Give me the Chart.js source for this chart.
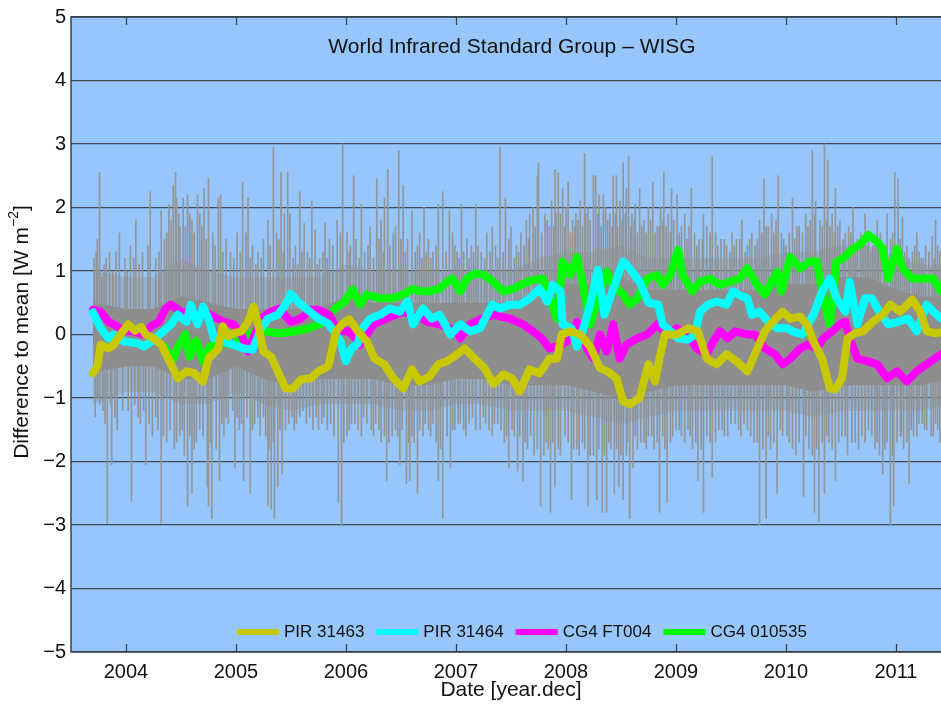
<!DOCTYPE html>
<html>
<head>
<meta charset="utf-8">
<title>World Infrared Standard Group - WISG</title>
<script src="https://cdn.jsdelivr.net/npm/chart.js@4.4.0/dist/chart.umd.min.js"></script>
<style>
  html, body { margin: 0; padding: 0; background: #fff; }
  #wrap { width: 941px; height: 704px; }
</style>
</head>
<body>
<div id="wrap"><canvas id="wisg" width="941" height="704"></canvas></div>
<script>
// ---- data ---------------------------------------------------------------
const seriesNames  = ['PIR 31463', 'PIR 31464', 'CG4 FT004', 'CG4 010535'];
const seriesColors = ['#c8c800', '#00ffff', '#ff00ff', '#00ff00'];
const yearTicks  = [2004, 2005, 2006, 2007, 2008, 2009, 2010, 2011];
const valueTicks = [-5, -4, -3, -2, -1, 0, 1, 2, 3, 4, 5];

// smoothed differences to the group mean, [year.dec, W m-2]
const pir31463 = [[2003.70,-0.61],[2003.74,-0.50],[2003.77,-0.16],[2003.84,-0.22],[2003.89,-0.16],[2003.95,0.00],[2004.02,0.16],[2004.08,0.06],[2004.14,0.12],[2004.18,0.00],[2004.25,-0.06],[2004.32,-0.16],[2004.41,-0.47],[2004.47,-0.69],[2004.55,-0.58],[2004.62,-0.61],[2004.70,-0.74],[2004.75,-0.38],[2004.84,-0.22],[2004.88,0.13],[2004.93,-0.03],[2004.98,0.02],[2005.05,0.05],[2005.11,0.20],[2005.16,0.44],[2005.20,0.16],[2005.25,-0.27],[2005.32,-0.35],[2005.38,-0.58],[2005.45,-0.85],[2005.52,-0.85],[2005.59,-0.71],[2005.68,-0.69],[2005.75,-0.58],[2005.84,-0.50],[2005.91,0.05],[2005.97,0.17],[2006.03,0.24],[2006.11,0.05],[2006.19,-0.11],[2006.26,-0.38],[2006.35,-0.47],[2006.43,-0.69],[2006.52,-0.85],[2006.60,-0.55],[2006.67,-0.74],[2006.76,-0.66],[2006.84,-0.47],[2006.92,-0.42],[2007.01,-0.31],[2007.08,-0.22],[2007.17,-0.38],[2007.26,-0.53],[2007.34,-0.78],[2007.43,-0.63],[2007.51,-0.69],[2007.58,-0.90],[2007.67,-0.55],[2007.76,-0.61],[2007.85,-0.38],[2007.92,-0.38],[2007.96,0.00],[2008.04,0.05],[2008.13,0.00],[2008.22,-0.19],[2008.31,-0.53],[2008.38,-0.58],[2008.46,-0.69],[2008.52,-1.05],[2008.58,-1.10],[2008.67,-1.00],[2008.75,-0.47],[2008.81,-0.74],[2008.85,-0.38],[2008.90,0.00],[2009.01,0.00],[2009.11,0.10],[2009.20,0.05],[2009.28,-0.38],[2009.37,-0.47],[2009.46,-0.31],[2009.55,-0.42],[2009.65,-0.58],[2009.74,-0.22],[2009.81,0.05],[2009.88,0.20],[2009.97,0.36],[2010.04,0.25],[2010.13,0.28],[2010.19,0.16],[2010.25,-0.11],[2010.33,-0.38],[2010.40,-0.85],[2010.45,-0.86],[2010.51,-0.69],[2010.56,-0.06],[2010.63,0.02],[2010.70,0.05],[2010.79,0.20],[2010.88,0.31],[2010.95,0.47],[2011.04,0.36],[2011.15,0.55],[2011.22,0.36],[2011.28,0.05],[2011.37,0.02],[2011.45,0.05]];

const pir31464 = [[2003.70,0.35],[2003.77,0.10],[2003.84,-0.06],[2003.89,0.00],[2003.98,-0.11],[2004.11,-0.14],[2004.16,-0.19],[2004.24,-0.10],[2004.34,0.05],[2004.41,0.16],[2004.47,0.31],[2004.55,0.20],[2004.59,0.47],[2004.65,0.16],[2004.70,0.44],[2004.75,0.25],[2004.80,-0.06],[2004.89,-0.11],[2004.98,-0.16],[2005.07,-0.22],[2005.15,-0.24],[2005.23,0.10],[2005.29,0.25],[2005.38,0.31],[2005.45,0.47],[2005.50,0.64],[2005.56,0.52],[2005.65,0.39],[2005.75,0.25],[2005.84,0.17],[2005.89,0.05],[2005.95,-0.11],[2006.00,-0.42],[2006.05,-0.22],[2006.11,-0.14],[2006.13,0.05],[2006.22,0.25],[2006.31,0.31],[2006.40,0.41],[2006.49,0.36],[2006.56,0.52],[2006.61,0.16],[2006.70,0.41],[2006.78,0.25],[2006.85,0.31],[2006.95,0.00],[2007.04,0.16],[2007.13,0.05],[2007.22,0.10],[2007.33,0.47],[2007.40,0.41],[2007.49,0.47],[2007.58,0.47],[2007.67,0.57],[2007.76,0.72],[2007.83,0.52],[2007.88,0.78],[2007.95,0.68],[2007.97,0.16],[2008.05,0.10],[2008.10,-0.19],[2008.15,0.05],[2008.22,0.47],[2008.29,1.02],[2008.35,0.31],[2008.43,0.72],[2008.52,1.15],[2008.58,1.04],[2008.67,0.83],[2008.75,0.50],[2008.84,0.47],[2008.88,0.16],[2008.95,0.05],[2009.02,-0.06],[2009.11,-0.08],[2009.17,0.00],[2009.22,0.36],[2009.29,0.47],[2009.37,0.52],[2009.46,0.47],[2009.52,0.68],[2009.60,0.60],[2009.65,0.57],[2009.69,0.31],[2009.76,0.36],[2009.84,0.20],[2009.92,0.10],[2010.01,0.10],[2010.06,0.05],[2010.15,0.00],[2010.25,0.31],[2010.33,0.68],[2010.40,0.88],[2010.46,0.57],[2010.54,0.36],[2010.58,0.83],[2010.65,0.16],[2010.72,0.57],[2010.78,0.57],[2010.85,0.36],[2010.93,0.16],[2011.02,0.20],[2011.11,0.25],[2011.19,0.05],[2011.28,0.47],[2011.34,0.36],[2011.41,0.25]];

const cg4ft004 = [[2003.70,0.39],[2003.77,0.36],[2003.84,0.20],[2003.89,0.16],[2003.98,0.05],[2004.07,0.05],[2004.15,0.00],[2004.23,0.13],[2004.30,0.20],[2004.36,0.41],[2004.41,0.47],[2004.50,0.36],[2004.60,0.30],[2004.71,0.36],[2004.80,0.28],[2004.89,0.20],[2004.98,0.16],[2005.05,0.00],[2005.11,-0.27],[2005.17,0.00],[2005.23,0.25],[2005.32,0.36],[2005.39,0.41],[2005.50,0.20],[2005.59,0.25],[2005.68,0.39],[2005.75,0.39],[2005.85,0.31],[2005.93,0.05],[2006.02,0.05],[2006.09,-0.06],[2006.13,-0.16],[2006.25,0.16],[2006.37,0.25],[2006.52,0.36],[2006.69,0.25],[2006.74,0.20],[2006.85,0.16],[2007.01,0.05],[2007.04,-0.06],[2007.13,0.16],[2007.22,0.24],[2007.34,0.31],[2007.49,0.25],[2007.61,0.16],[2007.70,0.05],[2007.78,-0.06],[2007.85,-0.22],[2007.93,-0.18],[2008.01,-0.11],[2008.10,0.20],[2008.19,-0.22],[2008.25,-0.38],[2008.31,0.00],[2008.37,-0.27],[2008.43,0.16],[2008.49,-0.38],[2008.55,-0.16],[2008.65,-0.06],[2008.74,0.00],[2008.83,0.16],[2008.92,0.00],[2009.01,0.10],[2009.10,0.00],[2009.19,-0.22],[2009.28,-0.31],[2009.34,-0.11],[2009.40,0.05],[2009.47,-0.06],[2009.54,0.05],[2009.65,0.00],[2009.72,0.00],[2009.81,-0.22],[2009.90,-0.31],[2009.97,-0.47],[2010.04,-0.38],[2010.13,-0.22],[2010.20,-0.16],[2010.28,-0.22],[2010.34,-0.06],[2010.42,0.05],[2010.49,0.16],[2010.54,0.20],[2010.58,-0.06],[2010.65,-0.38],[2010.74,-0.42],[2010.83,-0.47],[2010.92,-0.69],[2011.01,-0.58],[2011.10,-0.74],[2011.19,-0.58],[2011.28,-0.47],[2011.41,-0.31]];

const cg4010535 = [[2004.35,-0.19],[2004.42,-0.42],[2004.47,-0.20],[2004.54,0.00],[2004.58,-0.35],[2004.64,-0.10],[2004.70,-0.42],[2004.76,-0.19],[2004.85,-0.11],[2004.96,-0.16],[2005.08,-0.03],[2005.17,0.05],[2005.26,0.05],[2005.40,0.02],[2005.54,0.05],[2005.67,0.10],[2005.81,0.20],[2005.90,0.41],[2005.99,0.52],[2006.06,0.71],[2006.13,0.47],[2006.19,0.63],[2006.31,0.57],[2006.43,0.57],[2006.52,0.63],[2006.61,0.72],[2006.67,0.68],[2006.76,0.68],[2006.85,0.72],[2006.92,0.83],[2006.97,0.88],[2007.04,0.68],[2007.10,0.88],[2007.17,0.96],[2007.25,0.94],[2007.34,0.83],[2007.43,0.68],[2007.52,0.72],[2007.61,0.80],[2007.70,0.86],[2007.79,0.88],[2007.92,0.25],[2007.97,1.15],[2008.04,0.94],[2008.10,1.22],[2008.15,0.83],[2008.22,0.16],[2008.28,0.52],[2008.37,0.99],[2008.43,0.78],[2008.52,0.63],[2008.58,0.47],[2008.65,0.57],[2008.74,0.88],[2008.83,0.94],[2008.88,0.78],[2008.95,0.94],[2009.02,1.33],[2009.06,0.94],[2009.15,0.68],[2009.22,0.83],[2009.31,0.88],[2009.40,0.78],[2009.49,0.83],[2009.58,0.88],[2009.65,1.04],[2009.74,0.78],[2009.81,0.63],[2009.92,0.99],[2009.96,0.68],[2010.04,1.22],[2010.13,1.04],[2010.22,1.15],[2010.28,1.15],[2010.34,0.57],[2010.40,0.16],[2010.46,1.15],[2010.52,1.20],[2010.61,1.35],[2010.67,1.41],[2010.75,1.57],[2010.83,1.46],[2010.88,1.35],[2010.93,0.88],[2011.01,1.35],[2011.06,1.04],[2011.15,0.88],[2011.25,0.88],[2011.34,0.88],[2011.41,0.68]];

// daily differences: dense envelope of the scatter and the single-day outliers
const bandDates = [2003.70,2004.00,2004.25,2004.50,2004.75,2005.00,2005.25,2005.50,2005.75,2006.00,2006.25,2006.50,2006.75,2007.00,2007.25,2007.50,2007.75,2008.00,2008.25,2008.50,2008.75,2009.00,2009.25,2009.50,2009.75,2010.00,2010.25,2010.50,2010.75,2011.00,2011.25,2011.45];
const outerHi = [1.0,0.9,0.9,1.2,1.0,0.9,0.9,0.9,0.9,1.1,1.0,1.0,1.0,1.0,1.0,1.0,1.2,1.3,1.3,1.4,1.2,1.2,1.2,1.2,1.2,1.3,1.3,1.4,1.4,1.2,1.1,1.1];
const innerHi = [0.5,0.4,0.4,0.6,0.5,0.4,0.4,0.4,0.4,0.6,0.5,0.5,0.5,0.5,0.5,0.5,0.7,0.8,0.8,0.9,0.7,0.7,0.7,0.7,0.7,0.8,0.8,0.9,0.9,0.7,0.6,0.6];
const innerLo = [-0.6,-0.5,-0.5,-0.7,-0.7,-0.5,-0.7,-0.8,-0.7,-0.7,-0.7,-0.8,-0.8,-0.7,-0.7,-0.8,-0.8,-0.8,-0.9,-1.0,-0.9,-0.8,-0.8,-0.8,-0.8,-0.8,-0.9,-0.8,-0.8,-0.8,-0.8,-0.7];
const outerLo = [-1.1,-0.9,-0.9,-1.1,-1.1,-0.9,-1.1,-1.2,-1.1,-1.1,-1.1,-1.2,-1.2,-1.1,-1.1,-1.2,-1.2,-1.2,-1.3,-1.4,-1.3,-1.2,-1.2,-1.2,-1.2,-1.2,-1.3,-1.2,-1.2,-1.2,-1.2,-1.1];

const spikesUp = [[2003.74,1.5],[2003.76,2.55],[2004.09,1.8],[2004.22,2.25],[2004.32,1.95],[2004.39,2.05],[2004.43,2.35],[2004.45,2.55],[2004.46,2.15],[2004.52,2.15],[2004.56,2.2],[2004.65,2.2],[2004.71,2.3],[2004.75,2.45],[2004.84,2.15],[2004.86,2.2],[2005.06,2.4],[2005.11,2.15],[2005.29,1.8],[2005.34,2.95],[2005.41,2.55],[2005.47,2.55],[2005.49,1.9],[2005.58,2.25],[2005.62,1.75],[2005.69,2.1],[2005.72,1.65],[2005.81,1.75],[2005.97,3.0],[2006.07,2.5],[2006.14,2.05],[2006.28,2.45],[2006.35,2.15],[2006.38,2.6],[2006.48,2.9],[2006.52,2.35],[2006.60,1.95],[2006.71,2.0],[2006.84,2.05],[2006.88,2.25],[2006.94,1.95],[2007.05,2.05],[2007.18,2.05],[2007.33,1.7],[2007.40,2.95],[2007.45,2.15],[2007.50,1.7],[2007.67,1.9],[2007.74,2.5],[2007.75,2.7],[2007.90,2.6],[2007.93,2.55],[2007.97,2.3],[2008.02,2.4],[2008.17,2.85],[2008.25,2.5],[2008.27,2.5],[2008.34,2.2],[2008.43,2.5],[2008.46,2.5],[2008.52,2.7],[2008.57,2.8],[2008.63,2.05],[2008.67,2.3],[2008.79,2.4],[2008.89,2.55],[2008.96,2.3],[2009.01,2.2],[2009.14,2.3],[2009.25,1.9],[2009.33,2.8],[2009.60,1.8],[2009.80,2.45],[2009.93,2.5],[2010.06,2.15],[2010.24,2.9],[2010.35,3.0],[2010.38,2.75],[2010.45,2.3],[2010.61,2.0],[2010.72,1.9],[2010.83,1.8],[2010.92,1.9],[2010.99,2.55],[2011.02,2.45],[2011.06,1.85],[2011.33,1.55],[2011.36,1.8],
  [2003.71,1.2],[2003.80,1.1],[2003.85,1.3],[2003.94,1.6],[2003.99,1.2],[2004.04,1.4],[2004.15,1.3],[2004.27,1.2],[2004.35,1.5],[2004.49,1.7],[2004.60,1.8],[2004.67,1.9],[2004.79,1.6],[2004.91,1.5],[2004.95,1.3],[2005.01,1.6],[2005.15,1.4],[2005.20,1.3],[2005.25,1.5],[2005.37,1.6],[2005.44,1.9],[2005.54,1.4],[2005.65,1.3],[2005.76,1.2],[2005.85,1.5],[2005.92,1.8],[2006.01,1.6],[2006.04,1.4],[2006.17,1.3],[2006.22,1.7],[2006.32,1.8],[2006.43,1.6],[2006.45,1.7],[2006.56,1.5],[2006.65,1.4],[2006.67,1.6],[2006.75,1.5],[2006.79,1.3],[2006.97,1.6],[2007.01,1.3],[2007.10,1.5],[2007.14,1.4],[2007.23,1.3],[2007.28,1.6],[2007.36,1.4],[2007.48,1.5],[2007.55,1.4],[2007.59,1.6],[2007.64,1.8],[2007.70,2.0],[2007.81,1.9],[2007.85,1.7],[2007.87,2.1],[2007.95,1.9],[2008.00,2.0],[2008.06,1.8],[2008.09,1.9],[2008.13,2.1],[2008.20,2.0],[2008.30,2.2],[2008.36,2.0],[2008.40,1.9],[2008.49,2.1],[2008.55,2.3],[2008.60,1.9],[2008.71,1.8],[2008.75,2.0],[2008.83,1.7],[2008.86,2.0],[2008.93,1.9],[2008.98,1.8],[2009.05,1.7],[2009.08,1.9],[2009.17,1.6],[2009.21,1.5],[2009.28,1.7],[2009.36,1.6],[2009.41,1.5],[2009.46,1.4],[2009.51,1.6],[2009.55,1.5],[2009.65,1.4],[2009.69,1.6],[2009.74,1.5],[2009.76,1.8],[2009.84,1.7],[2009.87,1.9],[2009.96,1.6],[2010.00,1.4],[2010.10,1.7],[2010.15,1.6],[2010.18,1.9],[2010.27,2.1],[2010.31,1.8],[2010.42,1.9],[2010.49,1.8],[2010.54,1.6],[2010.57,1.7],[2010.65,1.5],[2010.68,1.6],[2010.75,1.5],[2010.79,1.4],[2010.86,1.6],[2010.89,1.3],[2010.95,1.5],[2011.10,1.4],[2011.15,1.3],[2011.19,1.6],[2011.23,1.2],[2011.27,1.4],[2011.40,1.3]];

const spikesDown = [[2003.83,-2.98],[2003.87,-2.05],[2004.05,-2.62],[2004.18,-2.05],[2004.32,-2.97],[2004.56,-2.7],[2004.60,-2.5],[2004.74,-2.4],[2004.75,-2.7],[2004.78,-2.9],[2004.85,-2.3],[2004.99,-2.1],[2005.07,-2.3],[2005.13,-2.5],[2005.29,-2.7],[2005.32,-2.75],[2005.35,-2.9],[2005.38,-2.4],[2005.42,-2.2],[2005.93,-2.65],[2005.96,-3.0],[2006.37,-2.3],[2006.49,-2.05],[2006.55,-2.35],[2006.58,-2.3],[2006.65,-2.5],[2006.84,-2.3],[2006.88,-2.9],[2006.95,-2.1],[2007.48,-2.1],[2007.56,-2.15],[2007.61,-2.3],[2007.77,-2.7],[2007.86,-2.8],[2007.90,-2.4],[2008.05,-2.6],[2008.20,-2.7],[2008.28,-2.6],[2008.33,-2.8],[2008.37,-2.8],[2008.44,-2.5],[2008.48,-2.4],[2008.52,-2.6],[2008.58,-2.9],[2008.61,-2.1],[2008.85,-2.8],[2008.92,-2.65],[2009.20,-2.3],[2009.25,-2.8],[2009.33,-2.25],[2009.76,-3.0],[2009.82,-2.9],[2009.92,-2.5],[2010.16,-2.55],[2010.26,-2.8],[2010.30,-2.95],[2010.35,-2.5],[2010.45,-2.3],[2010.88,-2.2],[2010.95,-3.0],[2010.98,-2.7],[2011.12,-2.35],
  [2003.72,-1.3],[2003.76,-1.1],[2003.92,-1.5],[2003.97,-1.2],[2004.13,-1.4],[2004.24,-1.6],[2004.27,-1.3],[2004.37,-1.7],[2004.44,-1.8],[2004.49,-1.6],[2004.53,-1.9],[2004.64,-1.7],[2004.67,-1.5],[2004.82,-1.8],[2004.89,-1.6],[2004.93,-1.4],[2005.03,-1.5],[2005.17,-1.4],[2005.22,-1.6],[2005.25,-1.3],[2005.45,-1.5],[2005.51,-1.3],[2005.55,-1.4],[2005.61,-1.2],[2005.67,-1.3],[2005.75,-1.5],[2005.80,-1.3],[2005.86,-1.4],[2006.01,-1.6],[2006.05,-1.4],[2006.11,-1.5],[2006.16,-1.3],[2006.23,-1.5],[2006.27,-1.4],[2006.32,-1.7],[2006.42,-1.6],[2006.45,-1.5],[2006.62,-1.7],[2006.70,-1.6],[2006.75,-1.5],[2006.79,-1.4],[2006.99,-1.5],[2007.04,-1.4],[2007.09,-1.6],[2007.15,-1.3],[2007.22,-1.5],[2007.27,-1.4],[2007.33,-1.6],[2007.38,-1.4],[2007.44,-1.7],[2007.53,-1.6],[2007.65,-1.8],[2007.71,-1.9],[2007.82,-1.7],[2007.95,-1.9],[2007.99,-1.6],[2008.10,-1.8],[2008.15,-1.7],[2008.25,-1.9],[2008.41,-1.8],[2008.55,-1.9],[2008.65,-1.8],[2008.71,-1.7],[2008.75,-1.6],[2008.80,-1.8],[2008.88,-1.6],[2008.95,-1.7],[2009.00,-1.5],[2009.05,-1.6],[2009.11,-1.5],[2009.15,-1.8],[2009.36,-1.7],[2009.42,-1.5],[2009.47,-1.6],[2009.54,-1.4],[2009.59,-1.6],[2009.65,-1.5],[2009.71,-1.7],[2009.86,-1.8],[2009.97,-1.6],[2010.03,-1.7],[2010.09,-1.9],[2010.21,-1.8],[2010.39,-1.7],[2010.51,-1.6],[2010.56,-1.9],[2010.63,-1.7],[2010.69,-1.6],[2010.75,-1.5],[2010.81,-1.8],[2010.85,-1.9],[2010.92,-1.7],[2011.04,-1.6],[2011.07,-1.8],[2011.16,-1.6],[2011.21,-1.4],[2011.26,-1.5],[2011.32,-1.6],[2011.36,-1.4],[2011.40,-1.7]];

// smaller single-day excursions that fill the scatter around the envelope
const minorUp = [[2003.73,1.3],[2003.78,0.9],[2003.82,1.2],[2003.88,1.0],[2003.91,1.3],[2004.01,1.0],[2004.07,1.2],[2004.12,1.1],[2004.20,1.4],[2004.30,1.3],[2004.37,1.6],[2004.41,1.8],[2004.48,1.9],[2004.54,1.7],[2004.58,1.9],[2004.62,1.6],[2004.69,1.7],[2004.73,1.5],[2004.81,1.4],[2004.88,1.3],[2004.98,1.2],[2005.04,1.3],[2005.09,1.6],[2005.13,1.2],[2005.18,1.1],[2005.23,1.2],[2005.31,1.4],[2005.39,1.5],[2005.43,1.3],[2005.52,1.2],[2005.56,1.1],[2005.60,1.3],[2005.67,1.2],[2005.74,1.1],[2005.79,1.3],[2005.83,1.2],[2005.88,1.4],[2005.95,1.6],[2006.03,1.3],[2006.09,1.5],[2006.12,1.2],[2006.20,1.4],[2006.25,1.2],[2006.30,1.5],[2006.34,1.3],[2006.40,1.4],[2006.50,1.5],[2006.54,1.3],[2006.63,1.3],[2006.69,1.2],[2006.73,1.3],[2006.77,1.2],[2006.82,1.4],[2006.91,1.3],[2006.99,1.4],[2007.03,1.2],[2007.07,1.3],[2007.12,1.2],[2007.16,1.3],[2007.20,1.4],[2007.26,1.2],[2007.31,1.3],[2007.38,1.2],[2007.43,1.3],[2007.53,1.2],[2007.57,1.3],[2007.62,1.4],[2007.66,1.5],[2007.72,1.7],[2007.78,1.6],[2007.83,1.8],[2007.89,1.7],[2007.91,1.9],[2007.99,1.7],[2008.04,1.6],[2008.08,1.7],[2008.11,1.8],[2008.15,1.7],[2008.18,1.9],[2008.22,1.8],[2008.29,1.9],[2008.32,1.7],[2008.38,1.8],[2008.42,1.7],[2008.45,1.9],[2008.47,1.7],[2008.51,1.8],[2008.54,1.9],[2008.59,1.7],[2008.62,1.8],[2008.65,1.6],[2008.69,1.7],[2008.73,1.6],[2008.77,1.8],[2008.81,1.6],[2008.85,1.7],[2008.88,1.8],[2008.91,1.7],[2008.95,1.6],[2009.03,1.6],[2009.10,1.5],[2009.12,1.7],[2009.19,1.4],[2009.24,1.5],[2009.31,1.6],[2009.38,1.4],[2009.44,1.5],[2009.49,1.3],[2009.53,1.4],[2009.58,1.5],[2009.63,1.3],[2009.67,1.5],[2009.72,1.4],[2009.78,1.6],[2009.82,1.7],[2009.89,1.6],[2009.91,1.8],[2009.98,1.5],[2010.03,1.6],[2010.08,1.5],[2010.12,1.7],[2010.20,1.7],[2010.22,1.8],[2010.26,1.9],[2010.33,1.7],[2010.37,1.8],[2010.40,1.7],[2010.44,1.6],[2010.47,1.7],[2010.52,1.5],[2010.59,1.6],[2010.63,1.4],[2010.70,1.5],[2010.74,1.4],[2010.77,1.3],[2010.81,1.5],[2010.84,1.4],[2010.91,1.4],[2010.97,1.6],[2011.00,1.4],[2011.04,1.5],[2011.08,1.3],[2011.12,1.2],[2011.17,1.4],[2011.21,1.3],[2011.25,1.2],[2011.30,1.3],[2011.35,1.2],[2011.38,1.4]];

const minorDown = [[2003.74,-1.0],[2003.79,-1.2],[2003.81,-1.4],[2003.86,-1.1],[2003.90,-1.3],[2004.02,-1.2],[2004.08,-1.1],[2004.11,-1.3],[2004.16,-1.2],[2004.21,-1.4],[2004.29,-1.5],[2004.34,-1.6],[2004.40,-1.5],[2004.46,-1.7],[2004.51,-1.5],[2004.58,-1.6],[2004.62,-1.8],[2004.70,-1.6],[2004.77,-1.7],[2004.87,-1.4],[2004.91,-1.3],[2004.97,-1.2],[2005.01,-1.3],[2005.05,-1.4],[2005.10,-1.3],[2005.15,-1.5],[2005.20,-1.3],[2005.27,-1.6],[2005.30,-1.8],[2005.34,-1.7],[2005.40,-1.5],[2005.48,-1.4],[2005.53,-1.5],[2005.58,-1.3],[2005.64,-1.4],[2005.70,-1.5],[2005.73,-1.3],[2005.78,-1.4],[2005.83,-1.5],[2005.89,-1.6],[2005.98,-1.7],[2006.03,-1.5],[2006.08,-1.4],[2006.14,-1.6],[2006.19,-1.4],[2006.25,-1.6],[2006.30,-1.5],[2006.35,-1.6],[2006.39,-1.7],[2006.47,-1.6],[2006.51,-1.5],[2006.57,-1.7],[2006.60,-1.6],[2006.67,-1.5],[2006.72,-1.4],[2006.77,-1.6],[2006.82,-1.7],[2006.86,-1.8],[2006.92,-1.6],[2006.97,-1.5],[2007.02,-1.4],[2007.07,-1.5],[2007.12,-1.4],[2007.18,-1.5],[2007.25,-1.3],[2007.30,-1.5],[2007.35,-1.4],[2007.41,-1.5],[2007.46,-1.6],[2007.51,-1.5],[2007.58,-1.6],[2007.63,-1.7],[2007.68,-1.6],[2007.74,-1.8],[2007.80,-1.9],[2007.84,-1.8],[2007.88,-1.7],[2007.93,-1.8],[2008.02,-1.7],[2008.07,-1.8],[2008.12,-1.9],[2008.17,-1.8],[2008.22,-1.9],[2008.30,-1.8],[2008.35,-1.9],[2008.39,-1.7],[2008.46,-1.8],[2008.50,-1.9],[2008.56,-1.7],[2008.63,-1.6],[2008.68,-1.7],[2008.73,-1.8],[2008.78,-1.6],[2008.83,-1.7],[2008.90,-1.8],[2008.97,-1.6],[2009.03,-1.5],[2009.08,-1.7],[2009.13,-1.6],[2009.18,-1.7],[2009.23,-1.8],[2009.28,-1.6],[2009.31,-1.7],[2009.39,-1.5],[2009.44,-1.6],[2009.50,-1.4],[2009.57,-1.5],[2009.62,-1.4],[2009.68,-1.6],[2009.74,-1.7],[2009.79,-1.8],[2009.84,-1.6],[2009.89,-1.7],[2009.95,-1.5],[2010.01,-1.6],[2010.06,-1.8],[2010.12,-1.7],[2010.18,-1.6],[2010.24,-1.9],[2010.28,-1.8],[2010.33,-1.7],[2010.37,-1.6],[2010.42,-1.8],[2010.48,-1.7],[2010.54,-1.6],[2010.60,-1.7],[2010.66,-1.8],[2010.72,-1.7],[2010.78,-1.6],[2010.83,-1.7],[2010.90,-1.8],[2010.97,-1.9],[2011.01,-1.7],[2011.05,-1.6],[2011.10,-1.7],[2011.14,-1.5],[2011.19,-1.6],[2011.24,-1.4],[2011.28,-1.5],[2011.34,-1.6],[2011.38,-1.5]];

// ---- drawing --------------------------------------------------------------
const FONT  = '"Liberation Sans", Arial, Helvetica, sans-serif';
const SKY   = '#96c6fb';
const GRID  = '#3e4a58';
const FRAME = '#3a4048';
const GRAY  = '#8e8e8e';

const toXY   = pairs => pairs.map(p => ({ x: p[0], y: p[1] }));
const toBars = pairs => pairs.map(p => ({ x: p[0], y: [0, p[1]] }));
const band   = vals => bandDates.map((d, i) => ({ x: d, y: vals[i] }));

function lineSet(i, pairs) {
  return {
    label: seriesNames[i], data: toXY(pairs),
    borderColor: seriesColors[i], backgroundColor: seriesColors[i],
    borderWidth: 8, pointRadius: 0, tension: 0, fill: false,
    borderJoinStyle: 'round', borderCapStyle: 'round', order: i + 1
  };
}
function bandSet(vals, fill, color, order) {
  return { data: band(vals), fill: fill, backgroundColor: color, borderWidth: 0,
           borderColor: 'rgba(0,0,0,0)', pointRadius: 0, tension: 0, order: order };
}
function spikeSet(pairs, color, order) {
  return { type: 'bar', data: toBars(pairs), backgroundColor: color, borderWidth: 0,
           barThickness: 1, grouped: false, order: order };
}

// axes background, frame, inward ticks, title, legend, axis labels
const decor = {
  id: 'decor',
  beforeDraw(chart) {
    const { ctx, chartArea: a } = chart;
    ctx.save();
    ctx.fillStyle = SKY;
    ctx.fillRect(a.left, a.top, a.right - a.left, a.bottom - a.top);
    ctx.restore();
  },
  afterDraw(chart) {
    const { ctx, chartArea: a } = chart;
    const xs = chart.scales.x;
    ctx.save();

    ctx.strokeStyle = FRAME;
    ctx.lineWidth = 1.5;
    ctx.beginPath();
    ctx.moveTo(a.right + 2, a.top); ctx.lineTo(a.left, a.top);
    ctx.lineTo(a.left, a.bottom); ctx.lineTo(a.right + 2, a.bottom);
    ctx.stroke();

    ctx.lineWidth = 1.2;
    yearTicks.forEach(v => {
      const x = Math.round(xs.getPixelForValue(v)) + 0.5;
      ctx.beginPath();
      ctx.moveTo(x, a.bottom); ctx.lineTo(x, a.bottom - 8);
      ctx.moveTo(x, a.top);    ctx.lineTo(x, a.top + 8);
      ctx.stroke();
    });

    ctx.fillStyle = '#111';
    ctx.textAlign = 'center';
    ctx.textBaseline = 'middle';
    ctx.font = '21px ' + FONT;
    ctx.fillText('World Infrared Standard Group \u2013 WISG', 512, 47);

    ctx.fillText('Date [year.dec]', 511, 690);

    // legend, one row inside the axes
    ctx.font = '17px ' + FONT;
    ctx.textAlign = 'left';
    let lx = 237;
    const ly = 632;
    seriesNames.forEach((name, i) => {
      ctx.fillStyle = seriesColors[i];
      ctx.fillRect(lx, ly - 3, 42, 6);
      ctx.fillStyle = '#111';
      ctx.fillText(name, lx + 47, ly);
      lx += 47 + ctx.measureText(name).width + 12;
    });

    // rotated y label with superscript
    ctx.translate(22, 332);
    ctx.rotate(-Math.PI / 2);
    const main = 'Difference to mean [W m';
    ctx.font = '21px ' + FONT;
    const w1 = ctx.measureText(main).width;
    ctx.font = '14px ' + FONT;
    const w2 = ctx.measureText('\u22122').width;
    ctx.font = '21px ' + FONT;
    const w3 = ctx.measureText(']').width;
    let tx = -(w1 + w2 + w3) / 2;
    ctx.fillText(main, tx, 0);
    tx += w1;
    ctx.font = '14px ' + FONT;
    ctx.fillText('\u22122', tx, -8);
    tx += w2;
    ctx.font = '21px ' + FONT;
    ctx.fillText(']', tx, 0);

    ctx.restore();
  }
};

new Chart(document.getElementById('wisg'), {
  type: 'line',
  data: {
    datasets: [
      lineSet(0, pir31463),
      lineSet(1, pir31464),
      lineSet(2, cg4ft004),
      lineSet(3, cg4010535),
      bandSet(innerHi, 5, GRAY, 5),
      bandSet(innerLo, false, GRAY, 6),
      bandSet(outerHi, 7, 'rgba(142,142,142,0.4)', 7),
      bandSet(outerLo, false, GRAY, 8),
      spikeSet(spikesUp, '#959595', 9),
      spikeSet(spikesDown, '#959595', 10),
      spikeSet(minorUp, '#939393', 11),
      spikeSet(minorDown, '#939393', 12)
    ]
  },
  options: {
    responsive: false,
    animation: false,
    events: [],
    layout: { padding: { top: 14, right: 0, bottom: 0, left: 0 } },
    plugins: {
      legend: { display: false },
      tooltip: { enabled: false },
      title: { display: false }
    },
    scales: {
      x: {
        type: 'linear', min: 2003.5, max: 2011.41, offset: false,
        grid: { display: false, drawTicks: false },
        border: { display: false },
        afterBuildTicks: s => { s.ticks = yearTicks.map(v => ({ value: v })); },
        afterFit: s => { s.height = 52; },
        ticks: {
          color: '#111', padding: 8, maxRotation: 0, autoSkip: false,
          font: { family: FONT, size: 20 },
          callback: v => String(v)
        }
      },
      y: {
        type: 'linear', min: -5, max: 5,
        grid: { color: GRID, lineWidth: 1.2, drawTicks: false },
        border: { display: false },
        afterBuildTicks: s => { s.ticks = valueTicks.map(v => ({ value: v })); },
        afterFit: s => { s.width = 71; },
        ticks: {
          color: '#111', padding: 5,
          font: { family: FONT, size: 20 },
          callback: v => (v < 0 ? '\u2212' + (-v) : String(v))
        }
      }
    }
  },
  plugins: [decor]
});
</script>
</body>
</html>
